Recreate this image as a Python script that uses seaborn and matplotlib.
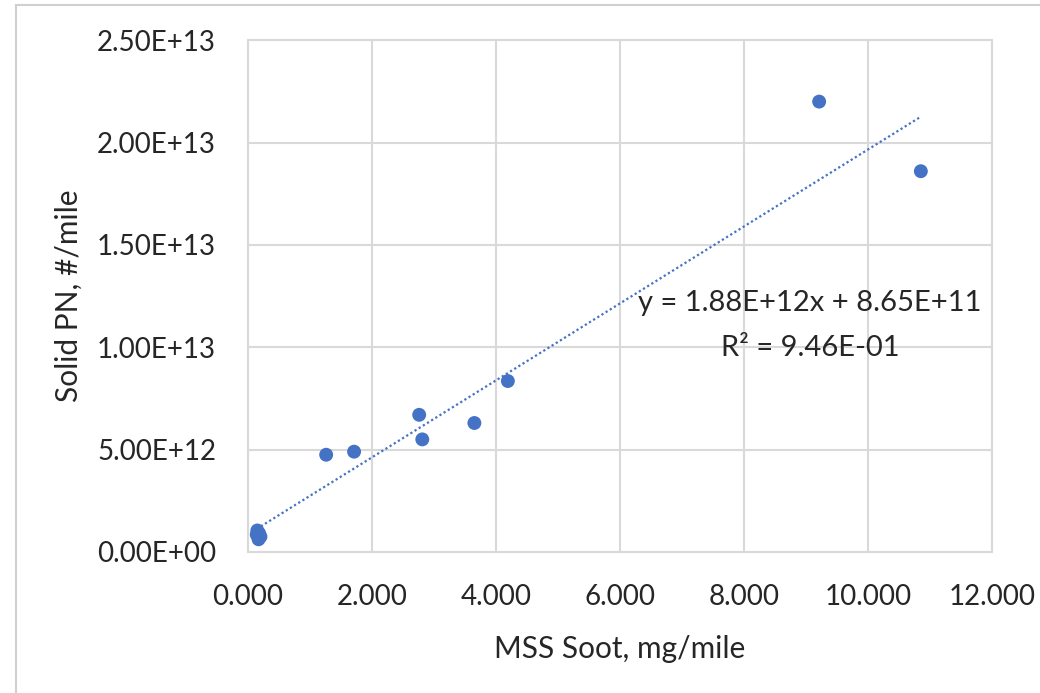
import numpy as np
import pandas as pd
import seaborn as sns
import matplotlib.pyplot as plt
from matplotlib.patches import Rectangle
from matplotlib.ticker import FuncFormatter, MultipleLocator

## Data
mss_soot = [0.15, 0.18, 0.20, 0.17, 0.14, 1.26, 1.71, 2.76, 2.81, 3.65, 4.19, 9.21, 10.85]
solid_pn = [1.05e12, 0.90e12, 0.75e12, 0.62e12, 0.85e12, 4.75e12, 4.90e12,
            6.70e12, 5.50e12, 6.30e12, 8.35e12, 2.20e13, 1.86e13]

# trendline as printed on the chart
slope = 1.88e12
intercept = 8.65e11
eq_lines = ["y = 1.88E+12x + 8.65E+11", "R² = 9.46E-01"]

df = pd.DataFrame({"MSS Soot, mg/mile": mss_soot, "Solid PN, #/mile": solid_pn})

sns.set_style("white")
plt.rcParams["font.family"] = ["Lato", "DejaVu Sans"]

blue = "#4472C4"
grid_c = "#D9D9D9"
txt_c = "#262626"

fig = plt.figure(figsize=(10.4, 6.93), dpi=100)
ax = fig.add_axes([0.2385, 0.2035, 0.954 - 0.2385, 0.942 - 0.2035])

# outer chart frame
fig.patches.append(Rectangle((0.015, -0.05), 1.2, 1.043, transform=fig.transFigure,
                             fill=False, edgecolor="#D0D0D0", linewidth=1.5))

sns.scatterplot(data=df, x="MSS Soot, mg/mile", y="Solid PN, #/mile", ax=ax,
                color=blue, s=100, edgecolor="none", zorder=3)

xs = np.array([min(mss_soot), max(mss_soot)])
ax.plot(xs, slope * xs + intercept, linestyle=(0, (1, 1.2)), color=blue,
        linewidth=1.6, zorder=2)

ax.set_xlim(0, 12)
ax.set_ylim(0, 2.5e13)
ax.xaxis.set_major_locator(MultipleLocator(2))
ax.yaxis.set_major_locator(MultipleLocator(5e12))
ax.xaxis.set_major_formatter(FuncFormatter(lambda v, p: f"{v:.3f}"))
ax.yaxis.set_major_formatter(FuncFormatter(
    lambda v, p: f"{v:.2E}".replace("E+0", "E+") if v != 0 else "0.00E+00"))

ax.grid(True, color=grid_c, linewidth=1.5)
ax.set_axisbelow(True)
for s in ax.spines.values():
    s.set_color(grid_c)
    s.set_linewidth(1.5)

ax.tick_params(axis="both", length=0, labelsize=20, colors=txt_c)
ax.tick_params(axis="y", pad=23)
ax.tick_params(axis="x", pad=23)
ax.set_xlabel("MSS Soot, mg/mile", fontsize=21.5, color=txt_c, labelpad=18)
ax.set_ylabel("Solid PN, #/mile", fontsize=21.5, color=txt_c, labelpad=10)

ax.text(0.755, 0.486, eq_lines[0], transform=ax.transAxes, ha="center",
        va="center", fontsize=21, color=txt_c)
ax.text(0.755, 0.398, eq_lines[1], transform=ax.transAxes, ha="center",
        va="center", fontsize=21, color=txt_c)

fig.savefig("out.png", dpi=100)
